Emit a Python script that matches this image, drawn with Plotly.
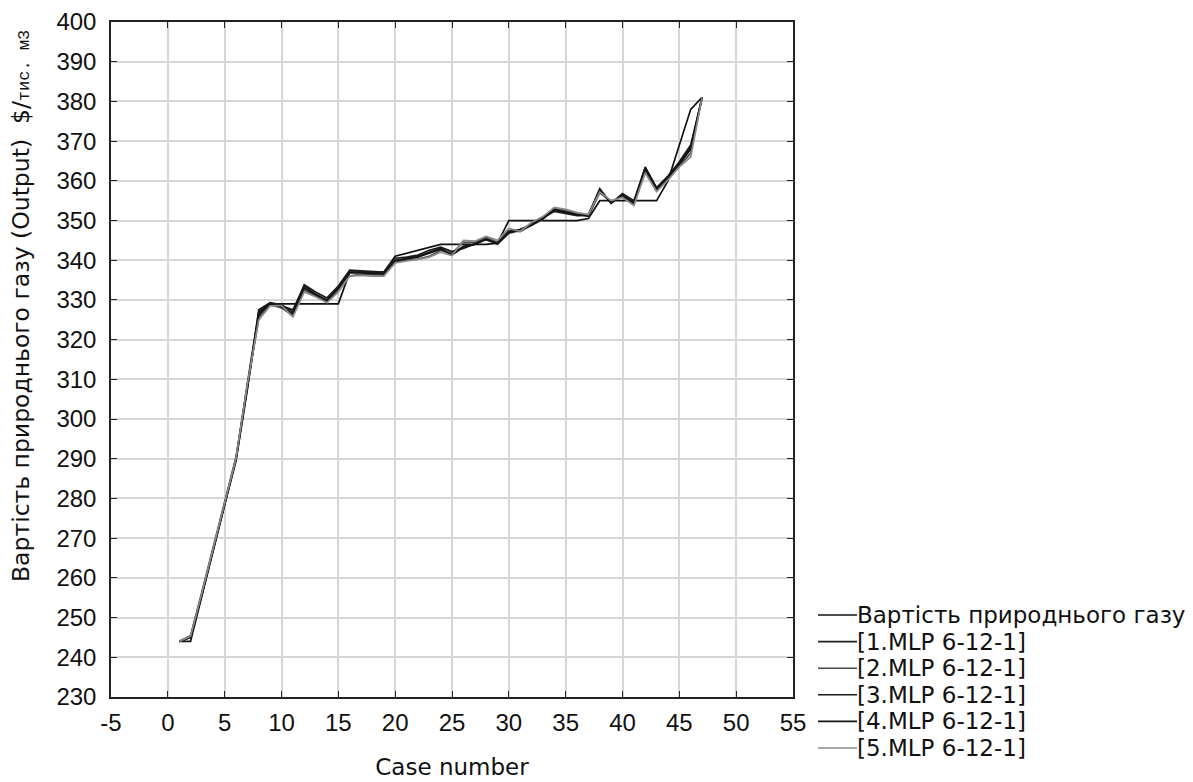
import plotly.graph_objects as go

case_number = list(range(1, 48))

target = [244, 244, 255.5, 267, 278.5, 290, 309, 327, 329, 329, 329, 329, 329, 329, 329,
          337, 337, 337, 337, 341, 341.8, 342.5, 343.3, 344, 344, 344, 344, 344, 344.3,
          350, 350, 350, 350, 350, 350, 350, 350.5, 355, 355, 355, 355, 355, 355,
          360, 369, 378, 381]

mlp1 = [244, 245, 256, 267.5, 279, 290, 308, 326, 329, 328.5, 327.5, 333.5, 331.5, 330, 333,
        337, 337, 337, 336.8, 340, 340.5, 341, 342, 343, 341.5, 343.5, 344, 345.5, 344.3,
        347, 347.8, 349, 350.5, 352.5, 352, 351.5, 351.5, 357.8, 354.5, 356.5, 354.5, 363.5,
        358, 361, 364.5, 368.5, 381]
mlp2 = [244, 245.5, 256.5, 268, 279.5, 290.5, 308.5, 325.5, 328.8, 328, 326, 332.5, 331, 329.5,
        332.5, 336, 336.5, 336.3, 336.2, 339.5, 340, 340.3, 341, 342.5, 341.8, 344.5, 344.5,
        345.8, 344.5, 347.5, 347.2, 348.8, 350.3, 353, 352.5, 351.8, 351, 357, 354.8, 356, 354,
        362.5, 357.5, 360.5, 363.8, 367, 381]
mlp3 = [244, 245, 256, 267, 278.5, 289.5, 307.5, 327.5, 329.3, 328.8, 327, 333.8, 332, 330.5,
        333.5, 337.5, 337.3, 337.2, 337, 340.5, 340.8, 341.3, 342.5, 343.3, 342.2, 343, 344.2,
        345.3, 344, 346.8, 347.5, 349.2, 350.8, 352.3, 351.8, 351.2, 351.3, 358, 354.3, 356.8,
        355, 363.3, 358.3, 361.2, 364.8, 369, 381]
mlp4 = [244, 245, 255.8, 267.3, 278.8, 290, 308.2, 326.5, 329, 328.3, 326.5, 333, 331.3, 329.8,
        333, 336.8, 336.8, 336.7, 336.5, 339.8, 340.3, 340.8, 341.8, 342.8, 341.3, 343.3, 344,
        345.2, 344.2, 347.2, 347.7, 348.8, 350.5, 352.8, 352.2, 351.5, 351.2, 357.5, 354.5,
        356.3, 354.3, 363, 357.8, 360.8, 364.2, 368, 381]
mlp5 = [244, 245.3, 256.3, 267.8, 279.2, 290.2, 308.8, 325, 328.5, 328.6, 325.7, 332, 330.8,
        329.3, 332, 336, 336.2, 336, 336, 339.3, 339.8, 340.2, 340.8, 342, 341.2, 345, 344.8,
        346, 345, 348, 347.3, 349.5, 351, 353.3, 352.8, 352, 351.5, 357.2, 355, 355.8, 353.8,
        362, 357.3, 360.2, 363.5, 366, 381]

series_names = ["Вартість природнього газу", "[1.MLP 6-12-1]", "[2.MLP 6-12-1]",
                "[3.MLP 6-12-1]", "[4.MLP 6-12-1]", "[5.MLP 6-12-1]"]
series_values = [target, mlp1, mlp2, mlp3, mlp4, mlp5]
series_colors = ["#111111", "#1e1e1e", "#4a4a4a", "#1a1a1a", "#141414", "#8a8a8a"]

x_ticks = [-5, 0, 5, 10, 15, 20, 25, 30, 35, 40, 45, 50, 55]
x_tick_labels = ["-5", "0", "5", "10", "15", "20", "25", "30", "35", "40", "45", "50", "55"]
y_ticks = list(range(230, 401, 10))

# ---- layout geometry (figure pixels; the page adds an 8px body margin) ----
W, H = 1185, 774
L, R, T, B = 103, 785, 14, 689
pw, ph = R - L, B - T

fig = go.Figure()
for name, vals, col in zip(series_names, series_values, series_colors):
    fig.add_trace(go.Scatter(x=case_number, y=vals, mode="lines", name=name,
                             line=dict(color=col, width=1.7), showlegend=False))

sans = "Liberation Sans, Arial, sans-serif"
wide_sans = "DejaVu Sans, Verdana, sans-serif"

# manual legend (compact spacing as in the reference)
shapes = []
annotations = []
leg_x0_px, leg_x1_px, leg_text_px = 810, 849, 847
leg_top_px, leg_step_px = 607, 26.6
for i, (name, col) in enumerate(zip(series_names, series_colors)):
    py = leg_top_px + i * leg_step_px
    yp = (B - py) / ph
    shapes.append(dict(type="line", xref="paper", yref="paper",
                       x0=(leg_x0_px - L) / pw, x1=(leg_x1_px - L) / pw, y0=yp, y1=yp,
                       line=dict(color=col, width=1.6)))
    annotations.append(dict(text=name, xref="paper", yref="paper",
                            x=(leg_text_px - L) / pw, y=yp, xanchor="left", yanchor="middle",
                            showarrow=False, font=dict(family=wide_sans, size=23, color="#111111")))

annotations.append(dict(
    text="Вартість природнього газу (Output)  $/<span style='font-family:Liberation Mono, Courier New, monospace; font-size:17px'>тис. м3</span>",
    textangle=-90, xref="paper", yref="paper", x=(13 - L) / pw, y=(B - 298) / ph,
    xanchor="center", yanchor="middle", showarrow=False,
    font=dict(size=23.5, family=wide_sans, color="#111111")))

fig.update_layout(
    width=W, height=H,
    margin=dict(l=L, r=W - R, t=T, b=H - B, autoexpand=False),
    paper_bgcolor="white", plot_bgcolor="white",
    font=dict(family=sans, size=24, color="#111111"),
    showlegend=False,
    shapes=shapes,
    annotations=annotations,
    xaxis=dict(range=[-5, 55], tickvals=x_ticks, ticktext=x_tick_labels, showgrid=True,
               gridcolor="#d6d6d6", gridwidth=1.5, showline=True, linecolor="#222222",
               linewidth=1.5, mirror="ticks", ticks="inside", ticklen=6, tickcolor="#222222",
               zeroline=False, ticklabelstandoff=3,
               title=dict(text="Case number", standoff=24,
                          font=dict(size=23, family=wide_sans)),
               tickfont=dict(size=24)),
    yaxis=dict(range=[230, 400], tickvals=y_ticks, showgrid=True, gridcolor="#d6d6d6",
               gridwidth=1.5, showline=True, linecolor="#222222", linewidth=1.5,
               mirror="ticks", ticks="inside", ticklen=6, tickcolor="#222222",
               zeroline=False, ticklabelstandoff=8, tickfont=dict(size=24)),
)

fig.write_html("out.html")
